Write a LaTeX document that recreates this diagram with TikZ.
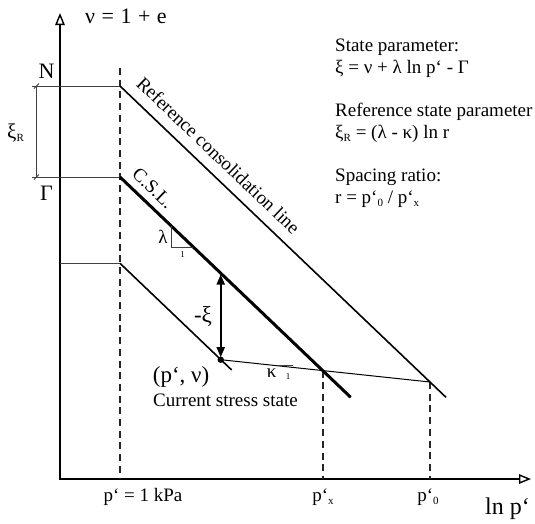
\documentclass[tikz,border=0pt]{standalone}
\usepackage{fontspec}
\setmainfont{Liberation Serif}
\usetikzlibrary{arrows.meta,calc}
\newcommand\lowsub[2][11]{\raisebox{-0.35ex}{\fontsize{#1}{#1}\selectfont #2}}
\begin{document}
\begin{tikzpicture}[x=1pt,y=-1pt,
  axis/.style={line width=2pt,line join=miter},
  helper/.style={line width=0.8pt,draw=black!75},
  dashv/.style={line width=1.8pt,dash pattern=on 7pt off 4.7pt,draw=black!85},
  diag/.style={line width=1.6pt},
  csl/.style={line width=3pt},
  txt/.style={inner sep=0pt,font=\fontsize{19}{22}\selectfont},
  bigtxt/.style={inner sep=0pt,font=\fontsize{23}{26}\selectfont},
  tiny/.style={inner sep=0pt,font=\fontsize{9}{9}\selectfont},
  openhead/.tip={Triangle[open,length=12pt,width=9.5pt,line width=1.4pt]},
  solidhead/.tip={Triangle[length=10pt,width=8pt]}
]
\useasboundingbox (0,0) rectangle (535,523);
% axes
\coordinate (O) at (60,479);
\coordinate (Ytop) at (60,13);
\coordinate (Xend) at (531,479);
\draw[axis,openhead-openhead] (Ytop) -- (O) -- (Xend);
% dashed verticals
\coordinate (D1t) at (120,68);   \coordinate (D1b) at (120,479);
\coordinate (D2t) at (323.3,370.6); \coordinate (D2b) at (323.3,479);
\coordinate (D3t) at (430,382);  \coordinate (D3b) at (430,479);
\draw[dashv] (D1t) -- (D1b);
\draw[dashv] (D2t) -- (D2b);
\draw[dashv] (D3t) -- (D3b);
% reference consolidation line
\coordinate (Nl) at (32,86); \coordinate (Rs) at (120,86); \coordinate (Re) at (446,397.3);
\draw[helper] (Nl) -- (Rs);
\draw[diag] (Rs) -- (Re);
% CSL
\coordinate (Gl) at (32,177); \coordinate (Cs) at (120,177); \coordinate (Ce) at (350.7,397.3);
\draw[helper] (Gl) -- (Cs);
\draw[csl] (Cs) -- (Ce);
% third line
\coordinate (Tl) at (60,263.3); \coordinate (Ts) at (120,263.3); \coordinate (Te) at (231.7,370);
\draw[helper] (Tl) -- (Ts);
\draw[diag] (Ts) -- (Te);
% xi_R bracket
\coordinate (Bt) at (36.5,86); \coordinate (Bb) at (36.5,177);
\draw[helper] (Bt) -- (Bb);
\draw[helper] ($(Bt)+(-2.5,2.5)$) -- ($(Bt)+(2.5,-2.5)$);
\draw[helper] ($(Bb)+(-2.5,2.5)$) -- ($(Bb)+(2.5,-2.5)$);
% current state and kappa line
\coordinate (P) at (220.7,359.7);
\coordinate (K0) at (430,382);
\draw[line width=1pt] (P) -- (K0);
\fill (P) circle (3.2pt);
% -xi arrow
\coordinate (A1) at (220.7,274.5);
\draw[line width=1.8pt,solidhead-solidhead,shorten >=2.5pt] (A1) -- (P);
% lambda triangle
\coordinate (L1) at (171.7,226.4); \coordinate (L2) at (171.7,247); \coordinate (L3) at (193.3,247);
\draw[helper] (L1) -- (L2) -- (L3);
% kappa mark
\coordinate (K1) at (278,365.8); \coordinate (K2) at (293,365.8);
\draw[helper] (K1) -- (K2);
% labels
\node[inner sep=0pt,font=\fontsize{22}{24}\selectfont,anchor=base west] (nu) at (85,23.3) {ν\hspace{6.5pt}=\hspace{6.5pt}1\hspace{6.5pt}+\hspace{6.5pt}e};
\node[inner sep=0pt,font=\fontsize{22}{24}\selectfont,anchor=base] (N) at (46.5,78) {N};
\node[inner sep=0pt,font=\fontsize{22}{24}\selectfont,anchor=base] (G) at (46.5,200) {Γ};
\node[inner sep=0pt,anchor=base west] (xiR) at (7,138) {\fontsize{21}{24}\selectfont ξ\lowsub[11]{R}};
\node[txt,rotate=-43.7] (rcl) at (218.5,155.5) {Reference consolidation line};
\node[txt,rotate=-43.7] (csll) at (153,188) {C.S.L.};
\node[txt] (lam) at (163,237) {λ};
\node[tiny] (one1) at (182.7,255) {1};
\node[txt] (kap) at (271.7,373) {κ};
\node[tiny] (one2) at (288,376.5) {1};
\node[bigtxt] (mxi) at (203,316) {-ξ};
\node[bigtxt,anchor=base west] (pnu) at (152.7,382.6) {(p‘, ν)};
\node[txt,anchor=base west] (cur) at (153,406.7) {Current stress state};
\node[txt,anchor=base] (p1) at (143,501.5) {p‘ = 1 kPa};
\node[txt,anchor=base] (px) at (323,501.5) {p‘\lowsub{x}};
\node[txt,anchor=base] (p0) at (428,501.5) {p‘\lowsub{0}};
\node[inner sep=0pt,font=\fontsize{24}{26}\selectfont,anchor=base west] (lnp) at (485,514) {ln p‘};
% right text
\node[txt,anchor=base west] (t1) at (335,51) {State parameter:};
\node[txt,anchor=base west] (t2) at (335,73) {ξ = ν + λ ln p‘ - Γ};
\node[txt,anchor=base west] (t3) at (335,116) {Reference state parameter};
\node[txt,anchor=base west] (t4) at (335,138) {ξ\lowsub{R} = (λ - κ) ln r};
\node[txt,anchor=base west] (t5) at (335,181) {Spacing ratio:};
\node[txt,anchor=base west] (t6) at (335,203) {r = p‘\lowsub{0} / p‘\lowsub{x}};
\end{tikzpicture}
\end{document}
